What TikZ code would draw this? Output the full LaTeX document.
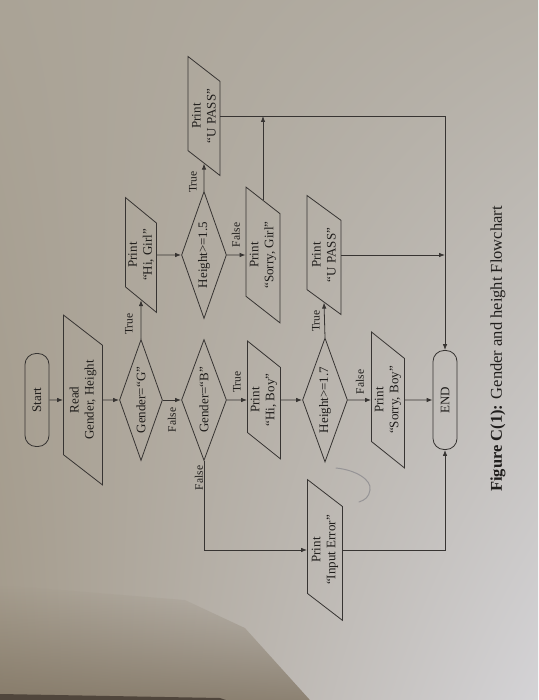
\documentclass[tikz,border=0pt]{standalone}
\usepackage{fontspec}
\setmainfont{Liberation Serif}
\usetikzlibrary{shapes.geometric, arrows.meta, calc, shadings, fadings}
\definecolor{ink}{RGB}{55,52,50}
\definecolor{txt}{RGB}{32,30,28}
\definecolor{bgTL}{RGB}{170,163,150}
\definecolor{bgTR}{RGB}{180,175,166}
\definecolor{bgBL}{RGB}{164,155,140}
\definecolor{bgBR}{RGB}{212,211,214}
\definecolor{shadow}{RGB}{128,116,98}
\definecolor{edge}{RGB}{80,70,60}
\definecolor{pen}{RGB}{150,148,150}
\tikzset{
  base/.style={draw=ink, line width=0.8pt, text=txt, font=\fontsize{13}{15}\selectfont, align=center, inner sep=1pt},
  term/.style={base, rectangle, rounded corners=11pt, minimum width=93pt, minimum height=24pt},
  io/.style={base, trapezium, trapezium left angle=52, trapezium right angle=128, trapezium stretches=true, minimum height=34pt},
  dec/.style={base, diamond, aspect=3, inner sep=0pt, minimum height=45pt},
  flow/.style={draw=ink, line width=0.8pt, -{Latex[length=6pt,width=4.5pt]}},
  lab/.style={font=\fontsize{11.5}{13}\selectfont, text=txt, inner sep=1pt},
}
\begin{document}
\begin{tikzpicture}[x=1pt,y=1pt]
\useasboundingbox (0,0) rectangle (538,-700);
\shade[upper left=bgTL, upper right=bgTR, lower left=bgBL, lower right=bgBR] (0,0) rectangle (538,-700);
% soft shadow at lower left
\fill[shadow, path fading=north, fill opacity=0.8] (0,-585) -- (185,-600) -- (245,-628) -- (310,-700) -- (0,-700) -- cycle;
\fill[edge] (0,-694) -- (220,-698) -- (226,-700) -- (0,-700) -- cycle;
% pen mark
\draw[pen, line width=1pt, line cap=round] (336,-468) .. controls (356,-470) and (372,-480) .. (370,-490) .. controls (369,-497) and (365,-500) .. (359,-502);
\begin{scope}[rotate=90, transform shape]
  % main column
  \node[term] (start) at (-400,-37) {Start};
  \node[io, minimum width=170pt, minimum height=39pt] (read) at (-400,-83) {Read\\Gender, Height};
  \node[dec, minimum width=121pt, minimum height=43pt] (g) at (-400,-141) {Gender=“G”};
  \node[dec, minimum width=121pt] (b) at (-400,-204) {Gender=“B”};
  \node[io, minimum width=119pt, minimum height=33pt] (hiboy) at (-400,-264) {Print\\“Hi, Boy”};
  \node[dec, minimum width=124pt] (h17) at (-400,-325) {Height>=1.7};
  \node[io, minimum width=136pt, minimum height=33pt] (sorryboy) at (-400,-388) {Print\\“Sorry, Boy”};
  \node[term, minimum width=99pt] (endn) at (-400,-445) {END};
  % right branch
  \node[io, minimum width=116pt, minimum height=31pt] (higirl) at (-255,-141) {Print\\“Hi, Girl”};
  \node[dec, minimum width=127pt] (h15) at (-255,-204) {Height>=1.5};
  \node[io, minimum width=136pt] (sorrygirl) at (-255,-263) {Print\\“Sorry, Girl”};
  \node[io, minimum width=120pt, minimum height=32pt] (upass1) at (-116,-204) {Print\\“U PASS”};
  \node[io, minimum width=120pt] (upass2) at (-255,-324) {Print\\“U PASS”};
  % left branch
  \node[io, minimum width=141pt, minimum height=35pt] (inerr) at (-550,-325) {Print\\“Input Error”};
  % caption
  \node[font=\fontsize{16.5}{18}\selectfont, text=txt] (cap) at (-349,-498) {\textbf{Figure C(1):} Gender and height Flowchart};
  % connectors
  \draw[flow] (start.south) -- (read.north);
  \draw[flow] (read.south) -- (g.north);
  \draw[flow] (g.south) -- (b.north);
  \draw[flow] (b.south) -- (hiboy.north);
  \draw[flow] (hiboy.south) -- (h17.north);
  \draw[flow] (h17.south) -- (sorryboy.north);
  \draw[flow] (sorryboy.south) -- (endn.north);
  \draw[flow] (g.east) -- (higirl.west);
  \draw[flow] (higirl.south) -- (h15.north);
  \draw[flow] (h15.east) -- (upass1.west);
  \draw[flow] (h15.south) -- (sorrygirl.north);
  \draw[flow] (h17.east) -- (upass2.west);
  \draw[flow] (b.west) -| (inerr.north);
  \draw[flow] (upass1.south) |- (endn.east);
  \draw[flow] (sorrygirl.east) -- (sorrygirl.east -| upass1.south);
  \draw[flow] (upass2.south) -- (upass2.south |- endn.east);
  \draw[flow] (inerr.south) |- (endn.west);
  % labels
  \node[lab] (lgb) at (-420,-172) {False};
  \node[lab] (lgt) at (-324,-129) {True};
  \node[lab] (l15t) at (-182,-193) {True};
  \node[lab] (l15f) at (-235,-236) {False};
  \node[lab] (lbt) at (-382,-237) {True};
  \node[lab] (lbf) at (-478,-199) {False};
  \node[lab] (l17t) at (-321,-316) {True};
  \node[lab] (l17f) at (-382,-360) {False};
\end{scope}
\end{tikzpicture}
\end{document}
